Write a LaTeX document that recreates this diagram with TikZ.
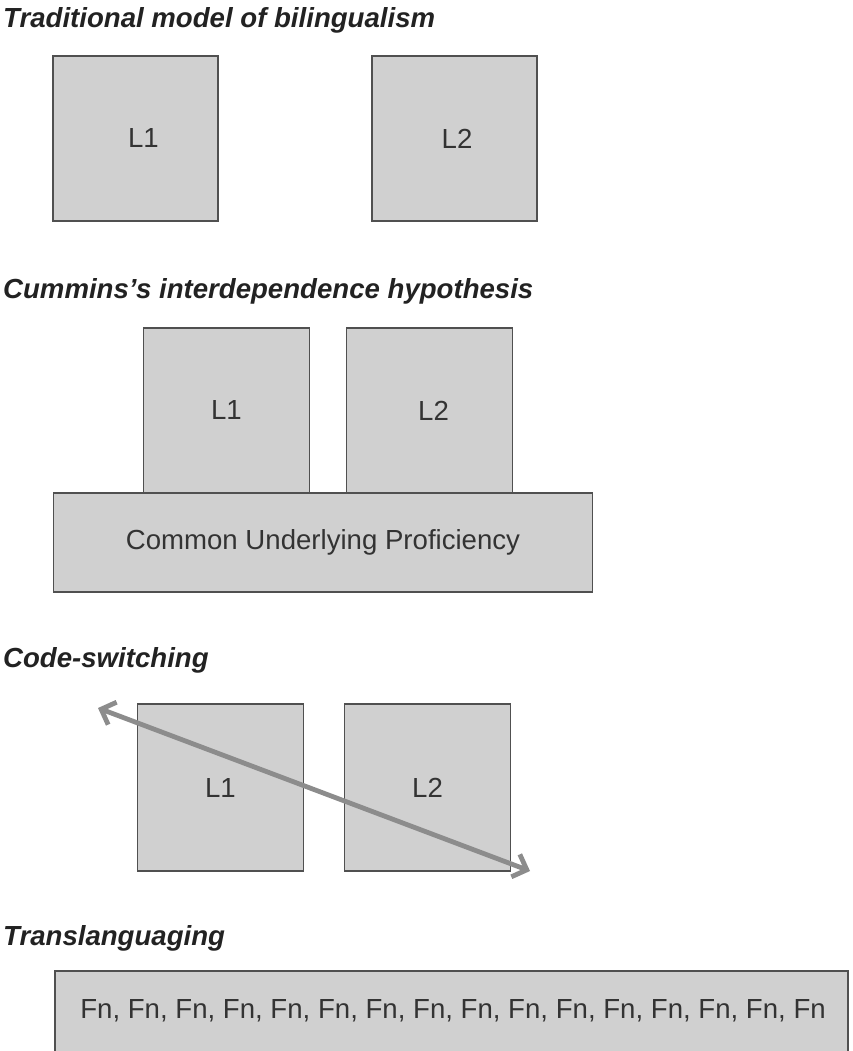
\documentclass[tikz,border=0pt]{standalone}
\usepackage{fontspec}
\setmainfont{Liberation Sans}
\usetikzlibrary{arrows.meta}
\definecolor{boxfill}{HTML}{D0D0D0}
\definecolor{boxline}{HTML}{505050}
\definecolor{arrowgray}{HTML}{8C8C8C}
\definecolor{titlecol}{HTML}{222222}
\definecolor{labelcol}{HTML}{333333}
\tikzset{
  title/.style={anchor=base west, inner sep=0pt, font=\fontsize{27.6}{32}\selectfont\bfseries\itshape, text=titlecol},
  langbox/.style={draw=boxline, fill=boxfill, line width=1.6pt, inner sep=0pt,
    font=\fontsize{27.6}{32}\selectfont, text=labelcol},
  switcharrow/.style={draw=arrowgray, line width=4.8pt,
    {Straight Barb[length=12pt,width=24pt]}-{Straight Barb[length=12pt,width=24pt]}}
}
\begin{document}
\begin{tikzpicture}[x=1pt,y=-1pt]
\path[use as bounding box] (0,0) rectangle (852,1051);
% Section 1
\node[title] (t1) at (3,28) {Traditional model of bilingualism};
\node[langbox, minimum width=165pt, minimum height=165pt] (a1) at (135.5,138.5) {\hspace{16pt}L1};
\node[langbox, minimum width=165pt, minimum height=165pt] (a2) at (454.5,138.5) {\hspace{5pt}L2};
% Section 2
\node[title] (t2) at (3,298) {Cummins’s interdependence hypothesis};
\node[langbox, minimum width=166pt, minimum height=165pt] (b1) at (226.5,410.5) {L1};
\node[langbox, minimum width=166pt, minimum height=165pt] (b2) at (429.5,410.5) {\hspace{8pt}L2};
\node[langbox, minimum width=539pt, minimum height=99pt] (b3) at (323,542.5) {Common Underlying Proficiency};
% Section 3
\node[title] (t3) at (3,667) {Code-switching};
\node[langbox, minimum width=166pt, minimum height=167pt] (c1) at (220.5,787.5) {L1};
\node[langbox, minimum width=166pt, minimum height=167pt] (c2) at (427.5,787.5) {L2};
\coordinate (cs1) at (98,708);
\coordinate (cs2) at (530,871);
\draw[switcharrow] (cs1) -- (cs2);
% Section 4
\node[title] (t4) at (3,945) {Translanguaging};
\node[draw=boxline, fill=boxfill, line width=1.6pt, inner sep=0pt, minimum width=793pt, minimum height=90pt] (d1) at (451.5,1016) {};
\node[anchor=base, inner sep=0pt, text=labelcol, font=\fontsize{27.6}{32}\selectfont] (d2) at (453,1018) {Fn, Fn, Fn, Fn, Fn, Fn, Fn, Fn, Fn, Fn, Fn, Fn, Fn, Fn, Fn, Fn};
\end{tikzpicture}
\end{document}
